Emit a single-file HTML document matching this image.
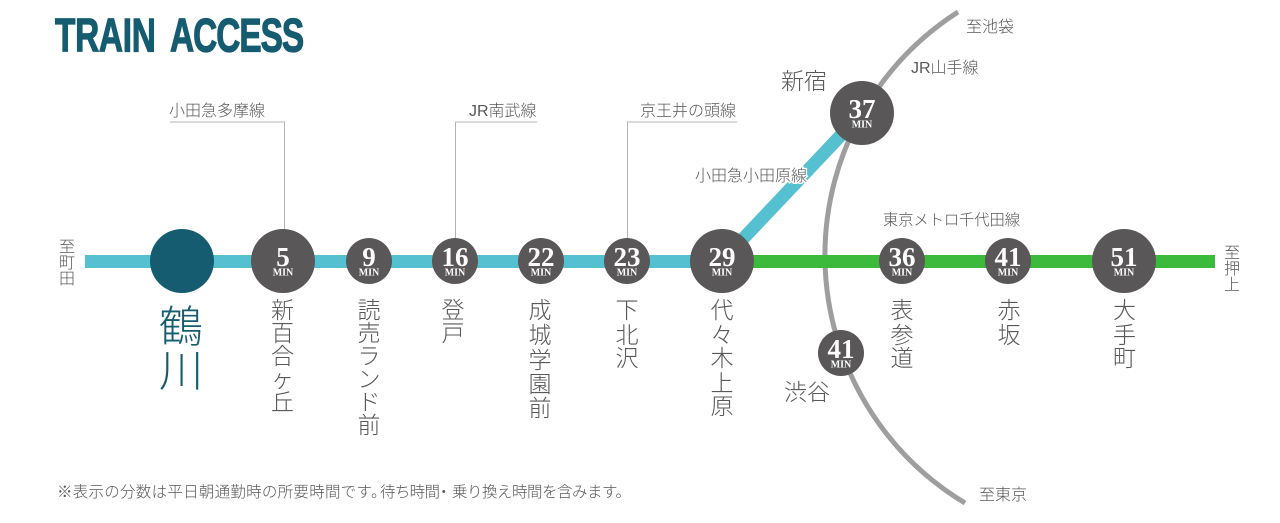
<!DOCTYPE html>
<html lang="ja"><head><meta charset="utf-8"><title>Train Access</title>
<style>
html,body{margin:0;padding:0;background:#fff;width:1280px;height:523px;overflow:hidden}
svg{display:block}
.j{font-family:"Liberation Sans","Noto Sans CJK JP",sans-serif;font-weight:300;fill:#595757}
.st{font-size:23px;text-anchor:middle}
.lb{font-size:16px}
.fn{font-size:15.5px}
.t{font-family:"Liberation Sans",sans-serif;font-weight:700;font-size:47px;fill:#155c70;stroke:#155c70;stroke-width:1.2px}
.n{font-family:"Liberation Serif",serif;font-weight:700;font-size:27px;fill:#fff;text-anchor:middle}
.m{font-family:"Liberation Serif",serif;font-weight:700;font-size:10px;fill:#fff;text-anchor:middle}
</style></head><body>
<svg width="1280" height="523" viewBox="0 0 1280 523" xmlns="http://www.w3.org/2000/svg">
<rect width="1280" height="523" fill="#fff"/>
<text class="t" transform="translate(55 51.500) scale(.71 1)" textLength="142" lengthAdjust="spacing">TRAIN</text>
<text class="t" transform="translate(170 51.500) scale(.71 1)" textLength="189" lengthAdjust="spacing">ACCESS</text>

<g fill="none" stroke="#b4b4b4" stroke-width="1">
<path d="M170 122H284.500V235"/>
<path d="M537 122H455.500V240"/>
<path d="M737 122H627.500V240"/>
</g>

<path d="M958 12A289 289 0 0 0 965 503" fill="none" stroke="#9e9e9e" stroke-width="5"/>
<rect x="85" y="255" width="640" height="13" fill="#55c1d0"/>
<rect x="722" y="255" width="493" height="13" fill="#3cba3c"/>
<path d="M722 261L862 113" stroke="#55c1d0" stroke-width="13" fill="none"/>
<text class="j" x="695" y="181" font-size="16" textLength="112" stroke="#fff" stroke-width="3" paint-order="stroke">小田急小田原線</text>

<circle cx="182" cy="261" r="32" fill="#155c70"/>
<g fill="#595757">
<circle cx="283" cy="261" r="32"/><circle cx="369" cy="261" r="23"/><circle cx="455" cy="261" r="23"/>
<circle cx="541" cy="261" r="23"/><circle cx="627" cy="261" r="23"/><circle cx="722" cy="261" r="32"/>
<circle cx="902" cy="261" r="23"/><circle cx="1008" cy="261" r="23"/><circle cx="1124" cy="261" r="32"/>
<circle cx="862" cy="113" r="32"/><circle cx="841" cy="353" r="23"/>
</g>

<text class="n" x="283" y="266">5</text><text class="m" x="283" y="275.500">MIN</text>
<text class="n" x="369" y="266">9</text><text class="m" x="369" y="275.500">MIN</text>
<text class="n" x="455" y="266">16</text><text class="m" x="455" y="275.500">MIN</text>
<text class="n" x="541" y="266">22</text><text class="m" x="541" y="275.500">MIN</text>
<text class="n" x="627" y="266">23</text><text class="m" x="627" y="275.500">MIN</text>
<text class="n" x="722" y="266">29</text><text class="m" x="722" y="275.500">MIN</text>
<text class="n" x="902" y="266">36</text><text class="m" x="902" y="275.500">MIN</text>
<text class="n" x="1008" y="266">41</text><text class="m" x="1008" y="275.500">MIN</text>
<text class="n" x="1124" y="266">51</text><text class="m" x="1124" y="275.500">MIN</text>
<text class="n" x="862" y="118">37</text><text class="m" x="862" y="127.500">MIN</text>
<text class="n" x="841" y="358">41</text><text class="m" x="841" y="367.500">MIN</text>

<text class="j" font-size="44" text-anchor="middle" style="fill:#155c70"><tspan x="181" y="342">鶴</tspan><tspan x="181" y="386">川</tspan></text>
<text class="j st"><tspan x="282.500" y="318">新</tspan><tspan x="282.500" y="341">百</tspan><tspan x="282.500" y="364">合</tspan><tspan x="282.500" y="387">ヶ</tspan><tspan x="282.500" y="410">丘</tspan></text>
<text class="j st"><tspan x="369" y="318">読</tspan><tspan x="369" y="341">売</tspan><tspan x="369" y="364">ラ</tspan><tspan x="369" y="387">ン</tspan><tspan x="369" y="410">ド</tspan><tspan x="369" y="433">前</tspan></text>
<text class="j st"><tspan x="453" y="318">登</tspan><tspan x="453" y="341">戸</tspan></text>
<text class="j st"><tspan x="540" y="318">成</tspan><tspan x="540" y="343">城</tspan><tspan x="540" y="368">学</tspan><tspan x="540" y="392">園</tspan><tspan x="540" y="416">前</tspan></text>
<text class="j st"><tspan x="627" y="318">下</tspan><tspan x="627" y="343">北</tspan><tspan x="627" y="366">沢</tspan></text>
<text class="j st"><tspan x="722" y="318">代</tspan><tspan x="722" y="343">々</tspan><tspan x="722" y="366">木</tspan><tspan x="722" y="391">上</tspan><tspan x="722" y="414">原</tspan></text>
<text class="j st"><tspan x="902" y="318">表</tspan><tspan x="902" y="343">参</tspan><tspan x="902" y="366">道</tspan></text>
<text class="j st"><tspan x="1009" y="318">赤</tspan><tspan x="1009" y="343">坂</tspan></text>
<text class="j st"><tspan x="1124.500" y="318">大</tspan><tspan x="1124.500" y="343">手</tspan><tspan x="1124.500" y="366">町</tspan></text>
<text class="j" x="781" y="89" font-size="23">新宿</text>
<text class="j" x="784" y="400" font-size="23">渋谷</text>

<text class="j lb" x="169" y="116">小田急多摩線</text>
<text class="j lb" x="469" y="116">JR南武線</text>
<text class="j lb" x="640" y="116">京王井の頭線</text>
<text class="j lb" x="911" y="73">JR山手線</text>
<text class="j lb" x="966" y="32">至池袋</text>
<text class="j lb" x="979" y="500">至東京</text>
<text class="j" x="883" y="225" font-size="15.300" textLength="137">東京メトロ千代田線</text>
<text class="j" font-size="16" text-anchor="middle"><tspan x="67" y="252">至</tspan><tspan x="67" y="268">町</tspan><tspan x="67" y="284">田</tspan></text>
<text class="j" font-size="16" text-anchor="middle"><tspan x="1232" y="258">至</tspan><tspan x="1232" y="274">押</tspan><tspan x="1232" y="290">上</tspan></text>
<text class="j fn" x="57" y="497" textLength="315">※表示の分数は平日朝通勤時の所要時間です</text>
<text class="j fn" x="371" y="497">。</text>
<text class="j fn" x="380" y="497" textLength="60">待ち時間</text>
<text class="j fn" x="436" y="497">・</text>
<text class="j fn" x="452" y="497" textLength="179">乗り換え時間を含みます。</text>
</svg>
</body></html>
